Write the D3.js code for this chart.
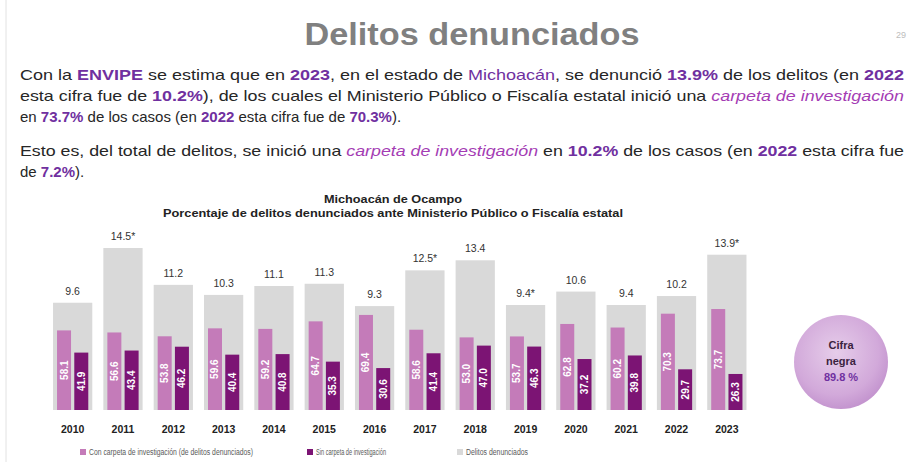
<!DOCTYPE html>
<html><head><meta charset="utf-8">
<script src="https://cdn.jsdelivr.net/npm/d3@7"></script>
<style>html,body{margin:0;padding:0;background:#fff;overflow:hidden}svg{display:block}</style>
</head><body>
<svg id="c" width="911" height="462"></svg>
<script>
const years = ["2010","2011","2012","2013","2014","2015","2016","2017","2018","2019","2020","2021","2022","2023"];
const denunciados = [9.6,14.5,11.2,10.3,11.1,11.3,9.3,12.5,13.4,9.4,10.6,9.4,10.2,13.9];
const denunciadosLabels = ["9.6","14.5*","11.2","10.3","11.1","11.3","9.3","12.5*","13.4","9.4*","10.6","9.4","10.2","13.9*"];
const conCarpeta = [58.1,56.6,53.8,59.6,59.2,64.7,69.4,58.6,53.0,53.7,62.8,60.2,70.3,73.7];
const sinCarpeta = [41.9,43.4,46.2,40.4,40.8,35.3,30.6,41.4,47.0,46.3,37.2,39.8,29.7,26.3];
const legendLabels = ["Con carpeta de investigación (de delitos denunciados)","Sin carpeta de investigación","Delitos denunciados"];
const chartTitle = ["Michoacán de Ocampo","Porcentaje de delitos denunciados ante Ministerio Público o Fiscalía estatal"];
const cifraNegra = ["Cifra","negra","89.8 %"];

const C = {gray:"#d9d9d9", pink:"#c47bb9", dark:"#7c1474", purple:"#7030a0", ital:"#a43cb4", text:"#262626"};
const FN = "Liberation Sans Narrow, Arial Narrow, Liberation Sans, Arial, sans-serif";
const svg = d3.select("#c");

// left rule and page number
svg.append("line").attr("x1",6).attr("x2",6).attr("y1",0).attr("y2",462).attr("stroke","#e2e2e2");
svg.append("text").attr("x",896).attr("y",38).attr("font-family","Liberation Sans, Arial, sans-serif")
  .attr("font-size",9).attr("fill","#bdbdbd").text("29");

// main title
svg.append("text").attr("x",472).attr("y",45).attr("text-anchor","middle")
  .attr("font-family","Liberation Sans, Arial, sans-serif").attr("font-size",31).attr("font-weight","bold")
  .attr("fill","#808080").attr("textLength",335).attr("lengthAdjust","spacingAndGlyphs").text("Delitos denunciados");

// paragraph
const N="n",B="b",P="p",I="i";
const lines = [
 {y:80, w:884, segs:[["Con la ",N],["ENVIPE",B],[" se estima que en ",N],["2023",B],[", en el estado de ",N],["Michoacán",P],[", se denunció ",N],["13.9%",B],[" de los delitos (en ",N],["2022",B]]},
 {y:101, w:884, segs:[["esta cifra fue de ",N],["10.2%",B],["), de los cuales el Ministerio Público o Fiscalía estatal inició una ",N],["carpeta de investigación",I]]},
 {y:122, w:null, segs:[["en ",N],["73.7%",B],[" de los casos (en ",N],["2022",B],[" esta cifra fue de ",N],["70.3%",B],[").",N]]},
 {y:156, w:884, segs:[["Esto es, del total de delitos, se inició una ",N],["carpeta de investigación",I],[" en ",N],["10.2%",B],[" de los casos (en ",N],["2022",B],[" esta cifra fue",N]]},
 {y:177, w:null, segs:[["de ",N],["7.2%",B],[").",N]]}
];
lines.forEach(l=>{
  const t = svg.append("text").attr("x",20).attr("y",l.y)
    .attr("font-family",FN).attr("font-size",15).attr("fill",C.text);
  if(l.w) t.attr("textLength",l.w).attr("lengthAdjust","spacingAndGlyphs");
  l.segs.forEach(([s,k])=>{
    const ts=t.append("tspan").text(s);
    if(k===B) ts.attr("font-weight","bold").attr("fill",C.purple);
    if(k===P) ts.attr("fill",C.purple);
    if(k===I) ts.attr("font-style","italic").attr("fill",C.ital);
  });
});

// chart titles
const ctw=[138,460];
chartTitle.forEach((s,i)=>{
  svg.append("text").attr("x",393).attr("y",203+i*14).attr("text-anchor","middle")
    .attr("font-family",FN).attr("font-size",10.5)
    .attr("font-weight","bold").attr("fill","#222")
    .attr("textLength",ctw[i]).attr("lengthAdjust","spacingAndGlyphs").text(s);
});

// scales
const base = 410;
const x = d3.scaleBand().domain(years).range([47.5,752]).paddingInner(0.22).paddingOuter(0.11);
const yG = d3.scaleLinear().domain([0,14.5]).range([base, base-162]);
const yI = d3.scaleLinear().domain([0,100]).range([base, base-137]);
const bw = x.bandwidth();
const iw = 14;

const g = svg.append("g");
years.forEach((yr,i)=>{
  const x0 = x(yr);
  g.append("rect").attr("x",x0).attr("y",yG(denunciados[i])).attr("width",bw).attr("height",base-yG(denunciados[i])).attr("fill",C.gray);
  g.append("text").attr("x",x0+bw/2).attr("y",yG(denunciados[i])-8).attr("text-anchor","middle")
    .attr("font-family",FN).attr("font-size",10.5).attr("fill","#333")
    .text(denunciadosLabels[i]);
  const px = x0+4, dx = x0+bw-4-iw;
  g.append("rect").attr("x",px).attr("y",yI(conCarpeta[i])).attr("width",iw).attr("height",base-yI(conCarpeta[i])).attr("fill",C.pink);
  g.append("rect").attr("x",dx).attr("y",yI(sinCarpeta[i])).attr("width",iw).attr("height",base-yI(sinCarpeta[i])).attr("fill",C.dark);
  [[px,conCarpeta[i]],[dx,sinCarpeta[i]]].forEach(([xx,v])=>{
    const cy=(yI(v)+base)/2, cx=xx+iw/2;
    g.append("text").attr("transform",`translate(${cx+3.5},${cy}) rotate(-90)`).attr("text-anchor","middle")
      .attr("font-family",FN).attr("font-size",10).attr("font-weight","bold")
      .attr("fill","#fff").text(v.toFixed(1));
  });
});

// x axis labels
const xa = svg.append("g").attr("transform",`translate(0,${base})`)
  .call(d3.axisBottom(x).tickSize(0).tickPadding(16));
xa.select(".domain").remove();
xa.selectAll("text").attr("font-family",FN).attr("font-size",10.5)
  .attr("font-weight","bold").attr("fill","#222");

// legend
const lg = [[80,C.pink,164],[307,C.dark,70],[457,C.gray,62]];
legendLabels.forEach((s,i)=>{
  svg.append("rect").attr("x",lg[i][0]).attr("y",449).attr("width",6).attr("height",6).attr("fill",lg[i][1]);
  svg.append("text").attr("x",lg[i][0]+9).attr("y",455).attr("font-family",FN)
    .attr("font-size",8.5).attr("fill","#595959")
    .attr("textLength",lg[i][2]).attr("lengthAdjust","spacingAndGlyphs").text(s);
});

// cifra negra circle
const defs = svg.append("defs");
const rg = defs.append("radialGradient").attr("id","cg").attr("cx","45%").attr("cy","40%").attr("r","60%");
rg.append("stop").attr("offset","0%").attr("stop-color","#e6cdea");
rg.append("stop").attr("offset","75%").attr("stop-color","#d2a9da");
rg.append("stop").attr("offset","100%").attr("stop-color","#c495cf");
svg.append("circle").attr("cx",841).attr("cy",362).attr("r",47).attr("fill","url(#cg)");
cifraNegra.forEach((s,i)=>{
  svg.append("text").attr("x",841).attr("y",349+i*16).attr("text-anchor","middle")
    .attr("font-family","Liberation Sans, Arial, sans-serif").attr("font-size",11).attr("font-weight","bold")
    .attr("fill", i===2 ? C.purple : "#3b2340").text(s);
});
</script>
</body></html>
